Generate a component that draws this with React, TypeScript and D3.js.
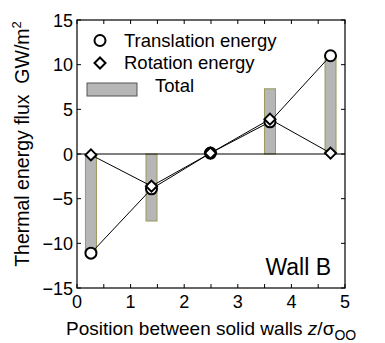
import React, { useEffect, useRef } from "react";
import * as d3 from "d3";

const positions = [0.26, 1.39, 2.49, 3.6, 4.73];
const translation = [-11.1, -3.9, 0.1, 3.6, 11.0];
const rotation = [-0.1, -3.6, 0.1, 3.9, 0.1];
const total = [-11.1, -7.5, 0.2, 7.3, 11.1];
const xTicks = [0, 1, 2, 3, 4, 5];
const yTicks = [-15, -10, -5, 0, 5, 10, 15];

export default function App() {
  const ref = useRef<SVGSVGElement>(null);

  useEffect(() => {
    const svg = d3.select(ref.current);
    svg.selectAll("*").remove();

    const left = 77, right = 345, top = 20, bottom = 288;
    const x = d3.scaleLinear().domain([0, 5]).range([left, right]);
    const y = d3.scaleLinear().domain([-15, 15]).range([bottom, top]);
    const font = "Liberation Sans, Arial, sans-serif";
    const g = svg.append("g");

    // bars for total
    const bw = 11;
    g.selectAll("rect.bar")
      .data(positions)
      .join("rect")
      .attr("x", (d) => x(d) - bw / 2)
      .attr("width", bw)
      .attr("y", (d, i) => Math.min(y(0), y(total[i])))
      .attr("height", (d, i) => Math.abs(y(total[i]) - y(0)))
      .attr("fill", "#b6b6b6")
      .attr("stroke", "#9a9a5c")
      .attr("stroke-width", 1);

    // zero line
    g.append("line")
      .attr("x1", left).attr("x2", right)
      .attr("y1", y(0)).attr("y2", y(0))
      .attr("stroke", "#000").attr("stroke-width", 1.2);

    const line = (vals: number[]) =>
      d3.line<number>().x((d, i) => x(positions[i])).y((d) => y(d))(vals);

    g.append("path").attr("d", line(translation)).attr("fill", "none").attr("stroke", "#000").attr("stroke-width", 1);
    g.append("path").attr("d", line(rotation)).attr("fill", "none").attr("stroke", "#000").attr("stroke-width", 1);

    g.selectAll("circle.tr")
      .data(translation)
      .join("circle")
      .attr("cx", (d, i) => x(positions[i]))
      .attr("cy", (d) => y(d))
      .attr("r", 5.5)
      .attr("fill", "#fff")
      .attr("stroke", "#000")
      .attr("stroke-width", 2);

    const diamond = (cx: number, cy: number, s: number) =>
      `M${cx},${cy - s}L${cx + s},${cy}L${cx},${cy + s}L${cx - s},${cy}Z`;

    g.selectAll("path.rot")
      .data(rotation)
      .join("path")
      .attr("d", (d, i) => diamond(x(positions[i]), y(d), 5.5))
      .attr("fill", "#fff")
      .attr("stroke", "#000")
      .attr("stroke-width", 2);

    // frame
    g.append("rect")
      .attr("x", left).attr("y", top)
      .attr("width", right - left).attr("height", bottom - top)
      .attr("fill", "none").attr("stroke", "#000").attr("stroke-width", 1.2);

    // ticks inside
    const tl = 4;
    d3.range(0, 5.01, 0.5).forEach((v) => {
      g.append("line").attr("x1", x(v)).attr("x2", x(v)).attr("y1", bottom).attr("y2", bottom - tl).attr("stroke", "#000");
      g.append("line").attr("x1", x(v)).attr("x2", x(v)).attr("y1", top).attr("y2", top + tl).attr("stroke", "#000");
    });
    yTicks.forEach((v) => {
      g.append("line").attr("x1", left).attr("x2", left + tl).attr("y1", y(v)).attr("y2", y(v)).attr("stroke", "#000");
      g.append("line").attr("x1", right).attr("x2", right - tl).attr("y1", y(v)).attr("y2", y(v)).attr("stroke", "#000");
    });

    xTicks.forEach((v) => {
      g.append("text").attr("x", x(v)).attr("y", bottom + 20)
        .attr("text-anchor", "middle").attr("font-family", font).attr("font-size", 18).text(String(v));
    });
    yTicks.forEach((v) => {
      g.append("text").attr("x", left - 4).attr("y", y(v) + 6.5)
        .attr("text-anchor", "end").attr("font-family", font).attr("font-size", 18)
        .text(v < 0 ? "\u2212" + Math.abs(v) : String(v));
    });

    // legend
    const lf = 18.5;
    g.append("circle").attr("cx", 100).attr("cy", 40.5).attr("r", 5.5).attr("fill", "#fff").attr("stroke", "#000").attr("stroke-width", 2);
    g.append("text").attr("x", 124).attr("y", 47).attr("font-family", font).attr("font-size", lf).text("Translation energy");
    g.append("path").attr("d", diamond(100, 63, 5.5)).attr("fill", "#fff").attr("stroke", "#000").attr("stroke-width", 2);
    g.append("text").attr("x", 124).attr("y", 69).attr("font-family", font).attr("font-size", lf).text("Rotation energy");
    g.append("rect").attr("x", 87).attr("y", 83).attr("width", 50).attr("height", 13).attr("fill", "#b6b6b6").attr("stroke", "#555").attr("stroke-width", 1);
    g.append("text").attr("x", 155).attr("y", 92).attr("font-family", font).attr("font-size", lf).text("Total");

    g.append("text").attr("x", 331).attr("y", 275).attr("text-anchor", "end")
      .attr("font-family", font).attr("font-size", 23).text("Wall B");

    // axis titles
    const yl = g.append("text")
      .attr("transform", "translate(29,144) rotate(-90)")
      .attr("text-anchor", "middle").attr("font-family", font).attr("font-size", 19.5);
    yl.append("tspan").text("Thermal energy flux\u00a0\u00a0GW/m");
    yl.append("tspan").attr("dy", -8).attr("font-size", 13).text("2");

    const xl = g.append("text")
      .attr("x", 66).attr("y", 335)
      .attr("font-family", font).attr("font-size", 19);
    xl.append("tspan").text("Position between solid walls ");
    xl.append("tspan").attr("font-style", "italic").text("z");
    xl.append("tspan").text("/\u03c3");
    xl.append("tspan").attr("dy", 5).attr("font-size", 14).text("OO");
  }, []);

  return (
    <svg
      ref={ref}
      width={385}
      height={343}
      style={{ position: "absolute", left: 0, top: 0, background: "#fff" }}
    />
  );
}
